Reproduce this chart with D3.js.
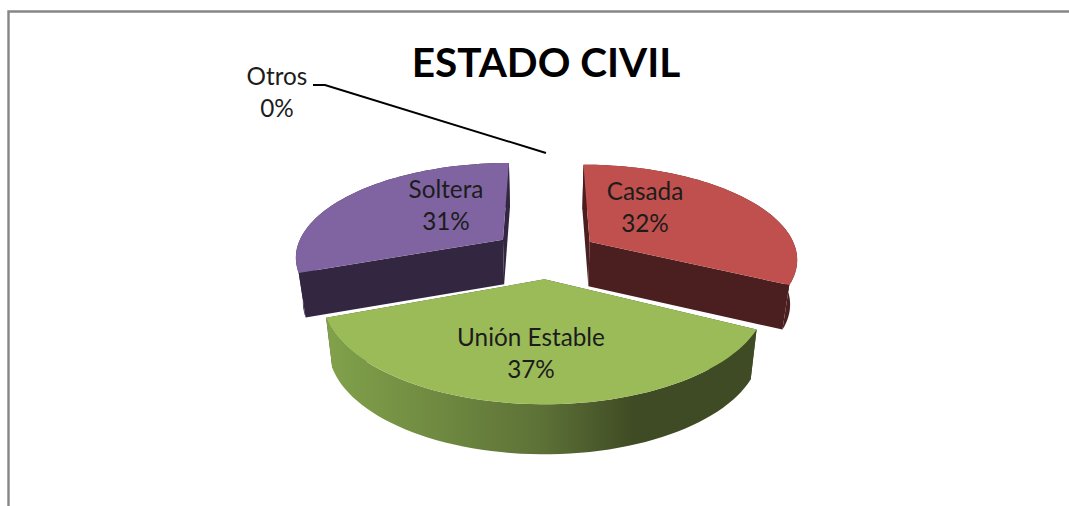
<!DOCTYPE html>
<html><head><meta charset="utf-8">
<script src="https://cdn.jsdelivr.net/npm/d3@7"></script>
<style>html,body{margin:0;padding:0;background:#fff;overflow:hidden}svg{display:block}text{font-family:Lato,"Open Sans",sans-serif;fill:#1c1c1c}</style>
</head><body><svg id="c" width="1069" height="506"></svg>
<script>
const title = "ESTADO CIVIL";
const categories = ["Casada", "Unión Estable", "Soltera", "Otros"];
const values = [32.4, 36.9, 30.7, 0];
const percentLabels = ["32%", "37%", "31%", "0%"];
const topColors = ["#c0504d", "#9bbb59", "#8064a2", "#4bacc6"];
const wallColors = ["#4b1f1f", "url(#greenWall)", "#322641", "#000"];
const radialColors = ["#4b1f1f", "#3f4b24", "#322641", "#000"];
const labelPos = [[645, 190.5, 32], [531, 336.5, 32], [446, 188.5, 32], [277, 75.5, 32]];
const explode = [53, 56, 53, 0];
const depths = [44.5, 50, 44.5, 0];
const radii = [208, 209, 208, 0];
const offsetX = [0, 2, 0, 0];
const offsetY = [2.5, 0, 0, 0];

const cx = 545.5, cy = 253, persp = 0.0008, flat = 0.45, bottomScale = 0.972;
const svg = d3.select("#c");

function project(X, Y, d) {
  const s = 1 / (1 - persp * Y);
  const k = d ? bottomScale : 1;
  return [cx + X * s * k, cy + flat * Y * s + (d || 0)];
}
const line = d3.line();
const arcs = d3.pie().sort(null).value(v => v)(values);

const defs = svg.append("defs");
const g = defs.append("linearGradient").attr("id", "greenWall")
  .attr("gradientUnits", "userSpaceOnUse").attr("x1", 333).attr("x2", 750).attr("y1", 0).attr("y2", 0);
[[0, "#80a04a"], [0.25, "#6f8a41"], [0.5, "#5d7137"], [0.72, "#3f4b24"], [1, "#3f4b24"]]
  .forEach(([o, c]) => g.append("stop").attr("offset", o).attr("stop-color", c));

svg.append("path").attr("d", "M8.5,506V11.5H1069").attr("fill", "none").attr("stroke", "#868686").attr("stroke-width", 2.4);

[0, 2, 1].forEach(i => {
  const a = arcs[i];
  if (a.endAngle - a.startAngle <= 0) return;
  const R = radii[i];
  const mid = (a.startAngle + a.endAngle) / 2;
  const ox = explode[i] * Math.sin(mid) + offsetX[i], oy = -explode[i] * Math.cos(mid);
  const angles = d3.range(0, 61).map(t => a.startAngle + (a.endAngle - a.startAngle) * t / 60);
  const rim = d => angles.map(t => project(ox + R * Math.sin(t), oy - R * Math.cos(t), d));
  const apex = d => project(ox, oy, d);
  const dp = depths[i];
  const gg = svg.append("g").attr("transform", `translate(0,${offsetY[i] * (i === 0 ? 0.4 : 1)})`);
  const rimT = rim(0), rimB = rim(dp);
  gg.append("path").attr("d", line([apex(0), rimT[0], rimB[0], apex(dp)]) + "Z").attr("fill", radialColors[i]);
  gg.append("path").attr("d", line([apex(0), rimT[60], rimB[60], apex(dp)]) + "Z").attr("fill", radialColors[i]);
  gg.append("path").attr("d", line(rimT.concat(rimB.slice().reverse())) + "Z").attr("fill", wallColors[i]);
  gg.append("path").attr("d", line([apex(0)].concat(rimT)) + "Z").attr("fill", topColors[i]);
});

svg.append("path").attr("d", line([[313, 85], [325, 85], [546, 153]])).attr("fill", "none").attr("stroke", "#000").attr("stroke-width", 2);

categories.forEach((c, i) => {
  const [x, y, dy] = labelPos[i];
  svg.append("text").attr("x", x).attr("y", y).attr("text-anchor", "middle").attr("dominant-baseline", "central").attr("font-size", 24.3).text(c);
  svg.append("text").attr("x", x).attr("y", y + dy).attr("text-anchor", "middle").attr("dominant-baseline", "central").attr("font-size", 24.3).text(percentLabels[i]);
});
svg.append("text").attr("x", 546).attr("y", 61).attr("text-anchor", "middle").attr("dominant-baseline", "central")
  .attr("font-size", 40.5).attr("font-weight", 700).style("fill", "#000").text(title);
</script></body></html>
